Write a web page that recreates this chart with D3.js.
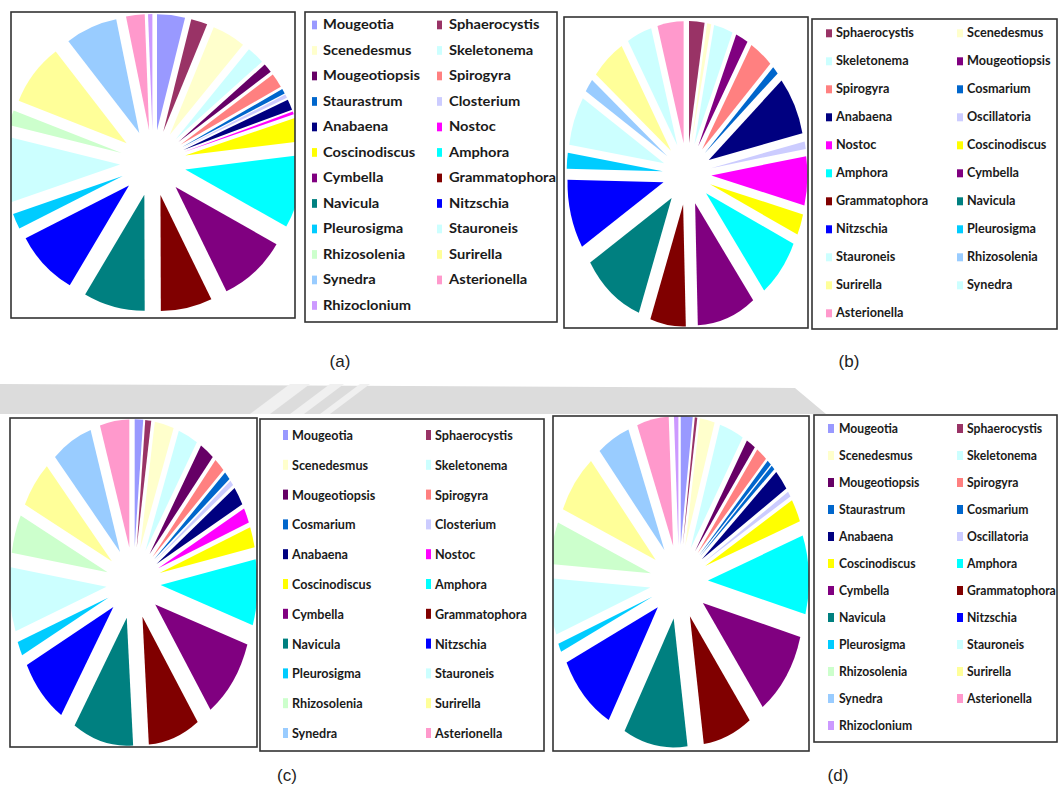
<!DOCTYPE html>
<html><head><meta charset="utf-8">
<script src="https://cdn.jsdelivr.net/npm/d3@7"></script>
<style>body{margin:0;background:#fff;} svg{display:block;}</style>
</head><body>
<svg id="chart" width="1059" height="790"></svg>
<script>
// ---------- DATA (estimated % shares, clockwise from 12 o'clock) ----------
const namesA = ["Mougeotia","Sphaerocystis","Scenedesmus","Skeletonema","Mougeotiopsis","Spirogyra","Staurastrum","Closterium","Anabaena","Nostoc","Coscinodiscus","Amphora","Cymbella","Grammatophora","Navicula","Nitzschia","Pleurosigma","Stauroneis","Rhizosolenia","Surirella","Synedra","Asterionella","Rhizoclonium"];
const valuesA = [3.9,2.3,4.7,2.5,1.3,2.0,0.7,0.5,1.5,0.4,3.3,10.2,9.6,7.2,8.6,9.0,2.2,9.2,2.1,8.6,7.3,2.6,0.6];

const namesB = ["Sphaerocystis","Scenedesmus","Skeletonema","Mougeotiopsis","Spirogyra","Cosmarium","Anabaena","Oscillatoria","Nostoc","Coscinodiscus","Amphora","Cymbella","Grammatophora","Navicula","Nitzschia","Pleurosigma","Stauroneis","Rhizosolenia","Surirella","Synedra","Asterionella"];
const valuesB = [2.6,0.7,3.2,2.1,4.0,1.1,7.8,1.0,6.5,2.8,7.9,9.9,6.0,10.6,9.2,2.1,6.5,1.8,5.7,4.2,4.4];

const namesC = ["Mougeotia","Sphaerocystis","Scenedesmus","Skeletonema","Mougeotiopsis","Spirogyra","Cosmarium","Closterium","Anabaena","Nostoc","Coscinodiscus","Amphora","Cymbella","Grammatophora","Navicula","Nitzschia","Pleurosigma","Stauroneis","Rhizosolenia","Surirella","Synedra","Asterionella"];
const valuesC = [1.4,1.0,3.2,3.3,2.4,1.8,1.1,0.7,2.4,1.9,2.6,8.3,10.3,8.6,10.1,8.5,1.8,8.1,4.9,6.0,6.8,4.9];

const namesD = ["Mougeotia","Sphaerocystis","Scenedesmus","Skeletonema","Mougeotiopsis","Spirogyra","Staurastrum","Cosmarium","Anabaena","Oscillatoria","Coscinodiscus","Amphora","Cymbella","Grammatophora","Navicula","Nitzschia","Pleurosigma","Stauroneis","Rhizosolenia","Surirella","Synedra","Asterionella","Rhizoclonium"];
const valuesD = [1.9,0.4,2.4,3.9,1.5,1.8,0.7,0.6,2.6,0.7,2.9,9.9,10.7,7.9,10.3,9.9,1.1,7.1,5.3,7.5,5.3,5.1,0.7];

const panelLabels = ["(a)","(b)","(c)","(d)"];

// ---------- STYLES ----------
const colorMap = {
  Mougeotia:"#9999FF", Sphaerocystis:"#993366", Scenedesmus:"#FFFFCC", Skeletonema:"#CCFFFF",
  Mougeotiopsis:"#660066", Spirogyra:"#FF8080", Staurastrum:"#0066CC", Cosmarium:"#0066CC",
  Closterium:"#CCCCFF", Oscillatoria:"#CCCCFF", Anabaena:"#000080", Nostoc:"#FF00FF",
  Coscinodiscus:"#FFFF00", Amphora:"#00FFFF", Cymbella:"#800080", Grammatophora:"#800000",
  Navicula:"#008080", Nitzschia:"#0000FF", Pleurosigma:"#00CCFF", Stauroneis:"#CCFFFF",
  Rhizosolenia:"#CCFFCC", Surirella:"#FFFF99", Synedra:"#99CCFF", Asterionella:"#FF99CC",
  Rhizoclonium:"#CC99FF"
};
const overridesB = {Mougeotiopsis:"#800080", Rhizosolenia:"#99CCFF", Synedra:"#CCFFFF"};

const panels = [
  {names:namesA, values:valuesA, over:{}, box:[11,12,284,306], cx:153, cy:163, rx:116, ry:116, e:0.284,
   lg:{box:[305,12,252,310], c1:312, c2:437, t1:323, t2:449, base:29.3, step:25.5, sw:5, sh:8.7, ref:"Mougeotia", refW:71},
   lab:[340,367]},
  {names:namesB, values:valuesB, over:overridesB, box:[564,17,244,311], cx:687, cy:174, rx:96, ry:122, e:0.254,
   lg:{box:[812,19,245,310], c1:826, c2:957, t1:836, t2:967, base:37.3, step:28, sw:6, sh:8, ref:"Sphaerocystis", refW:78},
   lab:[849,367]},
  {names:namesC, values:valuesC, over:{}, box:[10,418,247,329], cx:133.5, cy:583, rx:97, ry:128, e:0.28,
   lg:{box:[260,419,284,332], c1:283, c2:426, t1:292, t2:435, base:440, step:29.8, sw:5, sh:10, ref:"Mougeotia", refW:61},
   lab:[287,781]},
  {names:namesD, values:valuesD, over:{}, box:[553,416,256,335], cx:679, cy:582, rx:101, ry:129, e:0.287,
   lg:{box:[814,415,243,327], c1:828, c2:957, t1:839, t2:967, base:433, step:27, sw:6, sh:9, ref:"Mougeotia", refW:59},
   lab:[838,781]}
];

const svg = d3.select("#chart");

// background watermark band between rows
svg.append("polygon").attr("points","0,384 795,388 826,414 0,414").attr("fill","#dcdcdc");
[[250,20],[290,14],[320,10]].forEach(([x,w])=>{
  svg.append("polygon").attr("points",`${x},414 ${x+w},414 ${x+w+40},384 ${x+40},384`).attr("fill","#f0f0f0");
});

const FONT = "Lato, 'Open Sans', 'DejaVu Sans', sans-serif";

// measure helper
const meas = svg.append("text").attr("font-family",FONT).attr("font-weight",700).attr("font-size",14).attr("x",-1000).attr("y",-1000);

const R = 100;
const arc = d3.arc().innerRadius(0).outerRadius(R);
const pie = d3.pie().sort(null).value(d=>d.v);

panels.forEach((p,pi)=>{
  const data = p.names.map((n,i)=>({n, v:p.values[i]}));
  const col = n => p.over[n] || colorMap[n];
  const [bx,by,bw,bh] = p.box;

  const clipId = "clip"+pi;
  svg.append("clipPath").attr("id",clipId).append("rect").attr("x",bx).attr("y",by).attr("width",bw).attr("height",bh);

  svg.append("rect").attr("x",bx).attr("y",by).attr("width",bw).attr("height",bh)
     .attr("fill","#fff");

  const g = svg.append("g").attr("clip-path",`url(#${clipId})`)
     .append("g").attr("transform",`translate(${p.cx},${p.cy}) scale(${p.rx/R},${p.ry/R})`);

  g.selectAll("path").data(pie(data)).join("path")
    .attr("d",arc)
    .attr("fill",d=>col(d.data.n))
    .attr("transform",d=>{
      const a=(d.startAngle+d.endAngle)/2, off=p.e*R;
      return `translate(${off*Math.sin(a)},${-off*Math.cos(a)})`;
    });

  svg.append("rect").attr("x",bx).attr("y",by).attr("width",bw).attr("height",bh)
     .attr("fill","none").attr("stroke","#333").attr("stroke-width",1.6);

  // legend
  const L = p.lg;
  const [lx,ly,lw,lh] = L.box;
  svg.append("rect").attr("x",lx).attr("y",ly).attr("width",lw).attr("height",lh)
     .attr("fill","#fff").attr("stroke","#333").attr("stroke-width",1.6);
  meas.text(L.ref);
  const k = L.refW / meas.node().getComputedTextLength();
  const lg = svg.append("g");
  p.names.forEach((n,i)=>{
    const c = i%2, r = Math.floor(i/2);
    const yb = L.base + r*L.step;
    lg.append("rect").attr("x", c? L.c2 : L.c1).attr("y", yb - L.sh).attr("width",L.sw).attr("height",L.sh)
      .attr("fill", col(n));
    lg.append("text").attr("transform",`translate(${c? L.t2 : L.t1},${yb}) scale(${k},1)`)
      .attr("font-family",FONT).attr("font-weight",700).attr("font-size",14).attr("fill","#1a1a1a")
      .text(n);
  });

  svg.append("text").attr("x",p.lab[0]).attr("y",p.lab[1]).attr("text-anchor","middle")
     .attr("font-family","'Liberation Sans', Arial, sans-serif").attr("font-size",17).attr("fill","#222")
     .text(panelLabels[pi]);
});
meas.remove();
</script>
</body></html>
